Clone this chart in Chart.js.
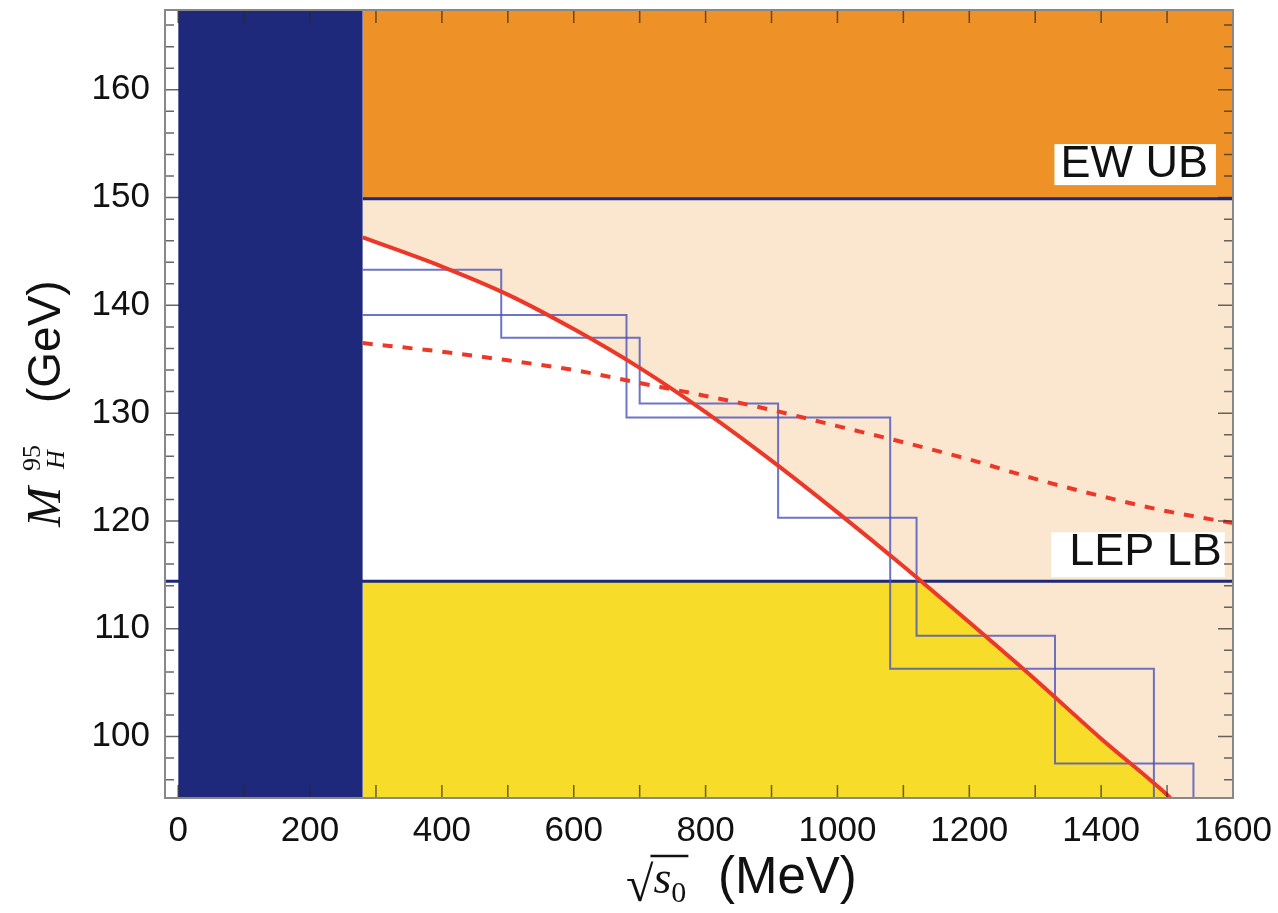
<!DOCTYPE html>
<html>
<head>
<meta charset="utf-8">
<script src="https://cdn.jsdelivr.net/npm/chart.js@4/dist/chart.umd.min.js"></script>
<style>
  html, body { margin: 0; padding: 0; background: #fff; }
  #wrap { width: 1278px; height: 913px; }
</style>
</head>
<body>
<div id="wrap"><canvas id="chart"></canvas></div>
<script>
// red curves, sqrt(s0) in MeV -> M_H^95 in GeV
const solidX = [280, 400, 500, 600, 700, 800, 900, 1000, 1100, 1200, 1300, 1400, 1500, 1505];
const solidY = [146.3, 143.6, 141.0, 137.8, 134.2, 130.1, 125.6, 120.8, 115.8, 110.6, 105.3, 99.8, 94.6, 94.3];
const dashX = [280, 400, 500, 600, 700, 800, 900, 1000, 1100, 1200, 1300, 1400, 1500, 1600];
const dashY = [136.5, 135.7, 134.9, 134.0, 132.8, 131.6, 130.3, 128.8, 127.3, 125.7, 123.9, 122.3, 120.9, 119.8];

// the two staircases: bin edges and heights
const stepAEdges = [280, 490, 700, 910, 1120, 1330, 1540];
const stepAHeights = [143.3, 137.0, 130.9, 120.3, 109.35, 97.5];
const stepBEdges = [280, 680, 1080, 1480];
const stepBHeights = [139.1, 129.6, 106.3];

// bounds
const cutX = 280;
const ewUB = 149.9;
const lepLB = 114.4;

const xTicks = [0, 200, 400, 600, 800, 1000, 1200, 1400, 1600];
const yTicks = [100, 110, 120, 130, 140, 150, 160];

const X_MIN = -20, X_MAX = 1600;
const Y_MIN = 94.3, Y_MAX = 167.4;

const NAVY = 'rgb(31,41,123)';
const RED = 'rgb(236,56,40)';
const SANS = '"Liberation Sans", Arial, sans-serif';
const SERIF = '"Liberation Serif", "Times New Roman", serif';

function pts(xs, ys) {
    return xs.map((x, i) => ({ x: x, y: ys[i] }));
}

// bin edges + heights -> points for a 'before' stepped line, dropping to the floor at the end
function stepPts(edges, heights) {
    const out = [{ x: edges[0], y: heights[0] }];
    for (let i = 1; i < heights.length; i++) out.push({ x: edges[i], y: heights[i] });
    out.push({ x: edges[edges.length - 1], y: heights[heights.length - 1] });
    out.push({ x: edges[edges.length - 1], y: Y_MIN });
    return out;
}

// where the solid curve goes through the LEP bound
function crossing(xs, ys, level) {
    for (let i = 1; i < xs.length; i++) {
        if (ys[i] <= level) {
            const t = (ys[i - 1] - level) / (ys[i - 1] - ys[i]);
            return xs[i - 1] + t * (xs[i] - xs[i - 1]);
        }
    }
    return xs[xs.length - 1];
}

const xc = crossing(solidX, solidY, lepLB);
const yellowPts = [{ x: cutX, y: lepLB }, { x: xc, y: lepLB }]
    .concat(pts(solidX, solidY).filter(p => p.x > xc));

const flat = { pointRadius: 0, borderWidth: 0, tension: 0 };

const datasets = [
    // peach band below EW bound
    Object.assign({ data: [{ x: cutX, y: ewUB }, { x: X_MAX, y: ewUB }], fill: 'start', backgroundColor: 'rgb(251,230,208)', order: 11 }, flat),
    // orange above EW bound
    Object.assign({ data: [{ x: cutX, y: ewUB }, { x: X_MAX, y: ewUB }], fill: 'end', backgroundColor: 'rgb(238,146,40)', order: 10 }, flat),
    // white under the solid curve
    Object.assign({ data: pts(solidX, solidY), fill: 'start', backgroundColor: '#ffffff', order: 9, cubicInterpolationMode: 'monotone' }, flat),
    // yellow under both curve and LEP bound
    Object.assign({ data: yellowPts, fill: 'start', backgroundColor: 'rgb(248,220,42)', order: 8 }, flat),
    // LEP lower bound
    { data: [{ x: X_MIN, y: lepLB }, { x: X_MAX, y: lepLB }], borderColor: NAVY, borderWidth: 3, pointRadius: 0, fill: false, order: 7 },
    // excluded low region
    Object.assign({ data: [{ x: 0, y: Y_MIN }, { x: cutX, y: Y_MIN }], fill: 'end', backgroundColor: NAVY, order: 6 }, flat),
    // EW upper bound
    { data: [{ x: cutX, y: ewUB }, { x: X_MAX, y: ewUB }], borderColor: NAVY, borderWidth: 3, pointRadius: 0, fill: false, order: 5 },
    // staircases
    { data: stepPts(stepAEdges, stepAHeights), stepped: 'before', borderColor: 'rgba(72,82,185,0.8)', borderWidth: 2, pointRadius: 0, fill: false, order: 3 },
    { data: stepPts(stepBEdges, stepBHeights), stepped: 'before', borderColor: 'rgba(72,82,185,0.8)', borderWidth: 2, pointRadius: 0, fill: false, order: 3 },
    // red curves
    { data: pts(dashX, dashY), borderColor: RED, borderWidth: 4, borderDash: [10, 10], pointRadius: 0, fill: false, cubicInterpolationMode: 'monotone', order: 2 },
    { data: pts(solidX, solidY), borderColor: RED, borderWidth: 4, pointRadius: 0, fill: false, cubicInterpolationMode: 'monotone', order: 1 }
];

// white boxed labels on the bounds
const boxLabels = [
    { text: 'EW UB', x: 1562, y: 151.9, padL: 6, padR: 8, padT: 1, padB: 8 },
    { text: 'LEP LB', x: 1583, y: 115.9, padL: 18, padR: 3, padT: 1, padB: 12 }
];

const labelPlugin = {
    id: 'boxLabels',
    afterDatasetsDraw(chart) {
        const ctx = chart.ctx, xs = chart.scales.x, ys = chart.scales.y;
        ctx.save();
        ctx.font = '45px ' + SANS;
        ctx.textAlign = 'right';
        ctx.textBaseline = 'alphabetic';
        boxLabels.forEach(l => {
            const px = xs.getPixelForValue(l.x), py = ys.getPixelForValue(l.y);
            const w = ctx.measureText(l.text).width;
            ctx.fillStyle = '#fff';
            ctx.fillRect(px - w - l.padL, py - 32 - l.padT, w + l.padL + l.padR, 32 + l.padT + l.padB);
            ctx.fillStyle = '#111';
            ctx.fillText(l.text, px, py);
        });
        ctx.restore();
    }
};

// frame with inward ticks on all sides, plus the axis titles
const framePlugin = {
    id: 'frame',
    afterDraw(chart) {
        const ctx = chart.ctx, a = chart.chartArea, xs = chart.scales.x, ys = chart.scales.y;
        ctx.save();
        ctx.strokeStyle = 'rgba(40,40,40,0.7)';
        ctx.lineWidth = 1.5;
        ctx.beginPath();
        for (let v = 0; v <= X_MAX; v += 100) {
            const p = xs.getPixelForValue(v);
            ctx.moveTo(p, a.bottom); ctx.lineTo(p, a.bottom - 13);
            ctx.moveTo(p, a.top); ctx.lineTo(p, a.top + 13);
        }
        for (let v = 96; v <= 166; v += 2) {
            const p = ys.getPixelForValue(v);
            const len = v % 10 === 0 ? 15 : 9;
            ctx.moveTo(a.left, p); ctx.lineTo(a.left + len, p);
            ctx.moveTo(a.right, p); ctx.lineTo(a.right - len, p);
        }
        ctx.stroke();
        ctx.strokeStyle = '#888';
        ctx.lineWidth = 2;
        ctx.strokeRect(a.left, a.top, a.right - a.left, a.bottom - a.top);

        // x title: sqrt(s0)  (MeV)
        ctx.fillStyle = '#111';
        ctx.textBaseline = 'alphabetic';
        ctx.textAlign = 'left';
        const base = 893;
        let x = 626;
        ctx.font = '50px ' + SERIF;
        ctx.fillText('\u221A', x, base + 8);
        const rw = ctx.measureText('\u221A').width;
        x += rw - 2;
        ctx.font = 'italic 46px ' + SERIF;
        ctx.fillText('s', x + 2, base);
        const sw = ctx.measureText('s').width;
        ctx.font = '30px ' + SERIF;
        ctx.fillText('0', x + sw + 2, base + 9);
        const zw = ctx.measureText('0').width;
        ctx.lineWidth = 2.5;
        ctx.strokeStyle = '#111';
        ctx.beginPath();
        ctx.moveTo(x - 1, base - 37); ctx.lineTo(x + sw + zw + 4, base - 37);
        ctx.stroke();
        ctx.font = '51px ' + SANS;
        ctx.fillText('(MeV)', 718, base);

        // y title: M_H^95  (GeV)
        ctx.translate(60, 527);
        ctx.rotate(-Math.PI / 2);
        ctx.font = 'italic 48px ' + SERIF;
        ctx.fillText('M', 0, 0);
        ctx.font = '26px ' + SERIF;
        ctx.fillText('95', 56, -20);
        ctx.font = 'italic 26px ' + SERIF;
        ctx.fillText('H', 58, 4);
        ctx.font = '46px ' + SANS;
        ctx.fillText('(GeV)', 124, 0);
        ctx.restore();
    }
};

new Chart(document.getElementById('chart'), {
    type: 'line',
    data: { datasets: datasets },
    options: {
        responsive: true,
        maintainAspectRatio: false,
        animation: false,
        layout: { padding: { top: 10, right: 45, left: 0, bottom: 0 } },
        plugins: { legend: { display: false }, tooltip: { enabled: false } },
        scales: {
            x: {
                type: 'linear', min: X_MIN, max: X_MAX,
                grid: { display: false }, border: { display: false },
                afterBuildTicks: s => { s.ticks = xTicks.map(v => ({ value: v })); },
                afterFit: s => { s.height = 115; },
                ticks: { font: { family: SANS, size: 35 }, color: '#111', padding: 4, maxRotation: 0, autoSkip: false,
                         callback: v => String(v) }
            },
            y: {
                type: 'linear', min: Y_MIN, max: Y_MAX,
                grid: { display: false }, border: { display: false },
                afterBuildTicks: s => { s.ticks = yTicks.map(v => ({ value: v })); },
                afterFit: s => { s.width = 165; },
                ticks: { font: { family: SANS, size: 35, lineHeight: 0.05 }, color: '#111', padding: 7, autoSkip: false,
                         callback: v => String(v) }
            }
        }
    },
    plugins: [labelPlugin, framePlugin]
});
</script>
</body>
</html>
